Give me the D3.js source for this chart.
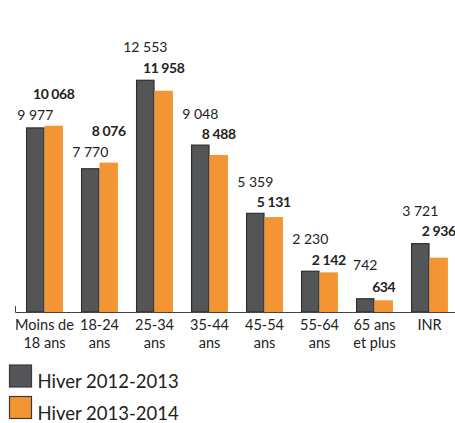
<!DOCTYPE html>
<html>
<head>
<meta charset="utf-8">
<script src="https://cdn.jsdelivr.net/npm/d3@7"></script>
<style>
  body { margin: 0; background: #fff; }
  text { font-family: Lato, 'Open Sans', sans-serif; fill: #222; }
</style>
</head>
<body>
<div id="chart"></div>
<script>
const WIDTH  = 455;
const HEIGHT = 423;

const categories = [
  ['Moins de', '18 ans'], ['18-24', 'ans'], ['25-34', 'ans'], ['35-44', 'ans'],
  ['45-54', 'ans'], ['55-64', 'ans'], ['65 ans', 'et plus'], ['INR']
];
const hiver2012 = [9977, 7770, 12553, 9048, 5359, 2230, 742, 3721];
const hiver2013 = [10068, 8076, 11958, 8488, 5131, 2142, 634, 2936];
const seriesNames = ['Hiver 2012-2013', 'Hiver 2013-2014'];

// label gap above each bar (Excel labels were moved by hand)
const GAP_2012 = [12, 16, 33, 31, 31, 32, 33, 32];
const GAP_2013 = [32, 32, 23, 21, 15, 12, 13, 27];

const COLORS = {
  dark:   '#545557',
  darkStroke: '#2e2e2e',
  orange: '#f39532',
  axis:   '#444'
};

var svg = d3.select('#chart').append('svg')
  .attr('width', WIDTH)
  .attr('height', HEIGHT);

var x = d3.scaleBand()
  .domain(d3.range(categories.length))
  .range([17, 457])
  .paddingInner(0.33)
  .paddingOuter(0.165);

var x1 = d3.scaleBand()
  .domain([0, 1])
  .range([0, x.bandwidth()]);

var y = d3.scaleLinear()
  .domain([0, 14000])
  .range([312, 53]);

var fmt = d => d3.format(',')(d).replace(',', ' ');

// Bars
var series = [hiver2012, hiver2013];
series.forEach(function(values, s) {
  svg.selectAll('.bar' + s)
      .data(values)
    .enter().append('rect')
      .attr('class', 'bar' + s)
      .attr('x', (d, i) => x(i) + x1(s) + (s === 0 ? 0.5 : 0))
      .attr('y', d => y(d) + (s === 0 ? 0.5 : 0))
      .attr('width', x1.bandwidth() - (s === 0 ? 1 : 0))
      .attr('height', d => y(0) - y(d) - (s === 0 ? 0.5 : 0))
      .style('fill', s === 0 ? COLORS.dark : COLORS.orange)
      .style('stroke', s === 0 ? COLORS.darkStroke : 'none')
      .style('stroke-width', 1.2);
});

// Axis line
svg.append('path')
  .attr('d', `M15.5,306V${y(0) + 0.5}H${WIDTH}`)
  .style('fill', 'none')
  .style('stroke', COLORS.axis)
  .style('stroke-width', 1);

// Value labels
svg.selectAll('.lbl0')
    .data(hiver2012)
  .enter().append('text')
    .attr('x', (d, i) => x(i) + x1(0) + x1.bandwidth() / 2)
    .attr('y', (d, i) => y(d) - GAP_2012[i] + 5)
    .attr('text-anchor', 'middle')
    .style('font-size', '14px')
    .text(fmt);

svg.selectAll('.lbl1')
    .data(hiver2013)
  .enter().append('text')
    .attr('x', (d, i) => x(i) + x1(1) + x1.bandwidth() / 2)
    .attr('y', (d, i) => y(d) - GAP_2013[i] + 5)
    .attr('text-anchor', 'middle')
    .style('font-size', '14px')
    .style('font-weight', 'bold')
    .style('letter-spacing', '-0.4px')
    .text(fmt);

// Category labels
svg.selectAll('.cat')
    .data(categories)
  .enter().append('text')
    .attr('text-anchor', 'middle')
    .attr('x', (d, i) => x(i) + x.bandwidth() / 2)
    .attr('y', 330)
    .style('font-size', '14.5px')
    .each(function(d) {
      d3.select(this).selectAll('tspan')
          .data(d)
        .enter().append('tspan')
          .attr('x', d3.select(this).attr('x'))
          .attr('dy', (t, j) => j ? 18 : 0)
          .text(t => t);
    });

// Legend
var legend = svg.selectAll('.legend')
    .data(seriesNames)
  .enter().append('g')
    .attr('transform', (d, i) => `translate(9.5,${365 + i * 31.5})`);

legend.append('rect')
  .attr('width', 22)
  .attr('height', 22)
  .style('fill', (d, i) => i ? COLORS.orange : COLORS.dark)
  .style('stroke', '#3a3a3a')
  .style('stroke-width', 1.2);

legend.append('text')
  .attr('x', 28)
  .attr('y', 23)
  .style('font-size', '18.5px')
  .text(d => d);
</script>
</body>
</html>
